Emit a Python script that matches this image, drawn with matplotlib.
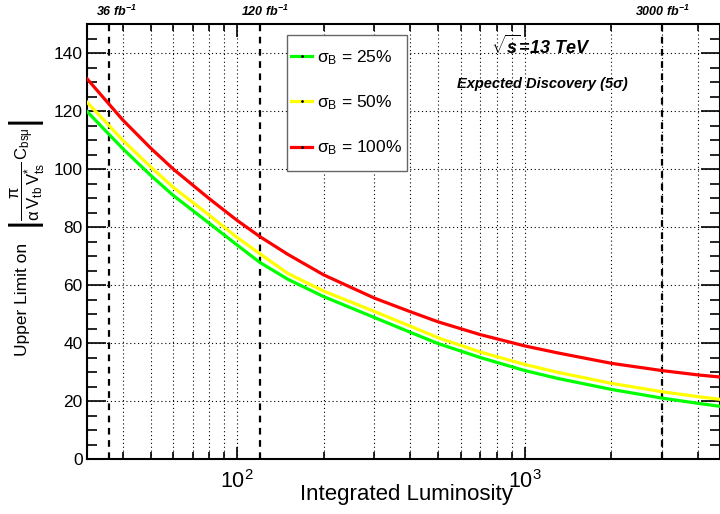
""" Expected discovery reach vs integrated luminosity,
    ROOT-style log-x plot redrawn with matplotlib """

import numpy as np
import matplotlib
matplotlib.use('Agg')
from matplotlib import pyplot as plt
from matplotlib.lines import Line2D
from matplotlib.patches import Rectangle
from matplotlib.ticker import LogLocator, NullFormatter, MultipleLocator

plt.rcParams['font.family'] = ['Liberation Sans', 'DejaVu Sans']
plt.rcParams['mathtext.fontset'] = 'custom'
plt.rcParams['mathtext.rm'] = 'Liberation Sans'
plt.rcParams['mathtext.it'] = 'Liberation Sans:italic'
plt.rcParams['mathtext.bf'] = 'Liberation Sans:italic:bold'

# Values
lumi = [30, 40, 50, 60, 80, 100, 120, 150, 200, 300, 400, 500, 700,
        1000, 1300, 2000, 3000, 4000, 4750]
limit_25 = [120.0, 107.1, 97.9, 90.9, 81.3, 73.8, 67.8, 62.0, 56.0, 48.8, 43.7, 39.8, 35.0,
            30.5, 27.8, 24.0, 21.0, 19.2, 18.2]
limit_50 = [123.2, 110.0, 100.8, 93.7, 84.1, 76.4, 70.8, 64.0, 57.9, 50.9, 45.8, 41.8, 36.9,
            32.6, 29.9, 26.1, 23.2, 21.5, 20.6]
limit_100 = [131.3, 117.0, 107.3, 100.0, 89.8, 82.3, 76.7, 70.6, 63.5, 55.5, 50.8, 47.3, 42.9,
             39.0, 36.6, 33.0, 30.5, 29.0, 28.3]
labels = [r'$\mathrm{\sigma_{B}}$ = 25%', r'$\mathrm{\sigma_{B}}$ = 50%',
          r'$\mathrm{\sigma_{B}}$ = 100%']
colors = ['#00ff00', '#ffff00', '#ff0000']

# Benchmark luminosities (fb^-1) and their labels
bench = [36, 120, 3000]
bench_labels = [r'$\mathbf{36\ fb^{-1}}$', r'$\mathbf{120\ fb^{-1}}$', r'$\mathbf{3000\ fb^{-1}}$']
bench_label_x = [38, 125, 3000]


def main():
    fig = plt.figure(figsize=(7.2, 5.14), dpi=100)
    ax = fig.add_axes([0.1204, 0.107, 0.879, 0.846])

    for ys, c in zip([limit_25, limit_50, limit_100], colors):
        ax.plot(lumi, ys, color=c, lw=2.3, zorder=3, solid_joinstyle='round')

    for xb in bench:
        ax.axvline(xb, color='black', ls=(0, (3, 2.5)), lw=1.6, zorder=2)
    for xl, lab in zip(bench_label_x, bench_labels):
        ax.text(xl, 1.03, lab, transform=ax.get_xaxis_transform(), ha='center', va='center',
                fontsize=9)

    ax.set_xscale('log')
    ax.set_xlim(30, 4750)
    ax.set_ylim(0, 150)

    # ROOT-like ticks: inside, on all four sides
    ax.yaxis.set_major_locator(MultipleLocator(20))
    ax.yaxis.set_minor_locator(MultipleLocator(5))
    ax.xaxis.set_major_locator(LogLocator(base=10, numticks=10))
    ax.xaxis.set_minor_locator(LogLocator(base=10, subs=np.arange(2, 10), numticks=20))
    ax.xaxis.set_minor_formatter(NullFormatter())
    ax.tick_params(which='both', direction='in', top=True, right=True, width=1.2)
    ax.tick_params(axis='y', which='major', length=14, labelsize=12.5, pad=3)
    ax.tick_params(axis='y', which='minor', length=7)
    ax.tick_params(axis='x', which='major', length=9, labelsize=15.5, pad=8)
    ax.tick_params(axis='x', which='minor', length=5)
    for sp in ax.spines.values():
        sp.set_linewidth(1.5)

    ax.grid(True, which='major', axis='y', color='black', ls=(0, (1, 2.5)), lw=0.8)
    ax.grid(True, which='both', axis='x', color='black', ls=(0, (1, 2.5)), lw=0.8)

    ax.set_xlabel('Integrated Luminosity', fontsize=16)
    ax.xaxis.set_label_coords(0.505, -0.058)

    # y title: plain words plus the formula, stacked along the axis
    ax.text(-0.0944, 0.4966, 'Upper Limit on', transform=ax.transAxes, rotation=90,
            rotation_mode='anchor', ha='right', va='baseline', fontsize=12.5)
    ax.text(-0.0944, 0.5264, r'$\left|\dfrac{\mathrm{\pi}}{\mathrm{\alpha\,V_{tb}\,V^{*}_{ts}}}'
            r'\,\mathrm{C_{bs\mu}}\right|$', transform=ax.transAxes, rotation=90,
            rotation_mode='anchor', ha='left', va='baseline', fontsize=12)

    ax.text(0.718, 0.948, r'$\mathbf{\sqrt{s}}$=13 TeV', transform=ax.transAxes,
            ha='center', va='center', fontsize=13, fontweight='bold', style='italic')
    ax.text(0.72, 0.862, 'Expected Discovery (5σ)', transform=ax.transAxes,
            ha='center', va='center', fontsize=10.5, fontweight='bold', style='italic')

    # legend: ROOT style box drawn by hand, entries from ax.legend without a frame
    ax.add_patch(Rectangle((0.3168, 0.662), 0.1898, 0.313, transform=ax.transAxes,
                           facecolor='white', edgecolor='#666666', lw=1.0, zorder=4))
    handles = [Line2D([], [], color=c, lw=2.3, marker='.', ms=2, mec='black', mfc='black')
               for c in colors]
    leg = ax.legend(handles, labels, loc='upper left', bbox_to_anchor=(0.323, 0.945),
                    borderaxespad=0, borderpad=0, fontsize=12.5, handlelength=1.2,
                    handletextpad=0.28, labelspacing=1.53, frameon=False)
    leg.set_zorder(5)

    fig.savefig('out.png', dpi=100)


if __name__ == '__main__':
    main()
